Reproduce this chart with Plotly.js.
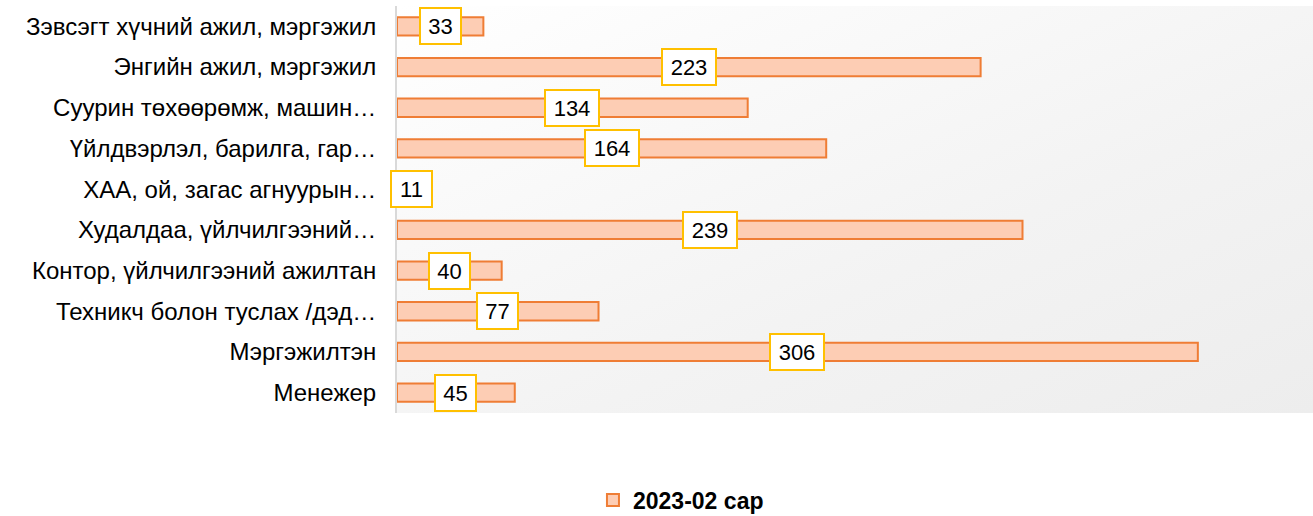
<!DOCTYPE html>
<html>
<head>
<meta charset="utf-8">
<script src="https://cdn.plot.ly/plotly-3.0.1.min.js"></script>
<style>html,body{margin:0;padding:0;background:#fff;}#chart{width:1313px;height:516px;}</style>
</head>
<body>
<div id="chart"></div>
<script>
const categories = [
  "Зэвсэгт хүчний ажил, мэргэжил",
  "Энгийн ажил, мэргэжил",
  "Суурин төхөөрөмж, машин…",
  "Үйлдвэрлэл, барилга, гар…",
  "ХАА, ой, загас агнуурын…",
  "Худалдаа, үйлчилгээний…",
  "Контор, үйлчилгээний ажилтан",
  "Техникч болон туслах /дэд…",
  "Мэргэжилтэн",
  "Менежер"
];
const values = [33, 223, 134, 164, 11, 239, 40, 77, 306, 45];
const seriesName = "2023-02 сар";

const bgSvg = '<svg xmlns="http://www.w3.org/2000/svg" width="100" height="100" preserveAspectRatio="none">' +
  '<defs><linearGradient id="g" x1="0" y1="0" x2="1" y2="1">' +
  '<stop offset="0" stop-color="#ffffff"/><stop offset="0.6" stop-color="#f3f3f3"/><stop offset="1" stop-color="#ededed"/>' +
  '</linearGradient></defs><rect width="100" height="100" fill="url(#g)"/></svg>';

const FONT = 'Arial, "Liberation Sans", sans-serif';
const LABEL_SIZE = 22;

const trace = {
  type: 'bar',
  orientation: 'h',
  x: values,
  y: categories,
  name: seriesName,
  width: 0.45,
  marker: {color: '#FDCDB4', line: {color: '#EF7D35', width: 2}},
  hoverinfo: 'x+y'
};

const annotations = values.map((v, i) => ({
  x: v / 2, y: categories[i], xref: 'x', yref: 'y',
  text: String(v), showarrow: false,
  width: Math.round(String(v).length * 0.556 * LABEL_SIZE + 11),
  height: 30,
  font: {family: FONT, size: LABEL_SIZE, color: '#000'},
  bgcolor: '#ffffff', bordercolor: '#FFC000', borderwidth: 2, borderpad: 2
}));

const layout = {
  width: 1313, height: 516,
  margin: {l: 397, r: 0, t: 6, b: 103, pad: 0},
  paper_bgcolor: '#ffffff',
  plot_bgcolor: 'rgba(0,0,0,0)',
  font: {family: FONT, size: 19, color: '#000'},
  showlegend: true,
  legend: {
    orientation: 'h', x: 0.31, xanchor: 'center', xref: 'paper',
    y: 0.031, yanchor: 'middle', yref: 'container',
    font: {size: 23, family: FONT, weight: 'bold', color: '#000'},
    bgcolor: 'rgba(0,0,0,0)'
  },
  xaxis: {
    range: [0, 350], showgrid: false, zeroline: false, showticklabels: false,
    showline: false, ticks: '', fixedrange: true, automargin: false
  },
  yaxis: {
    autorange: 'reversed', showgrid: false, zeroline: false,
    showline: true, linecolor: '#d9d9d9', linewidth: 2,
    ticks: '', ticklabelstandoff: 14, automargin: false,
    tickfont: {size: 24, family: FONT, color: '#000'}
  },
  images: [{
    source: 'data:image/svg+xml;charset=utf-8,' + encodeURIComponent(bgSvg),
    xref: 'paper', yref: 'paper', x: 0, y: 1, sizex: 1, sizey: 1,
    sizing: 'stretch', layer: 'below', xanchor: 'left', yanchor: 'top'
  }],
  annotations: annotations
};

Plotly.newPlot('chart', [trace], layout, {displayModeBar: false});
</script>
</body>
</html>
